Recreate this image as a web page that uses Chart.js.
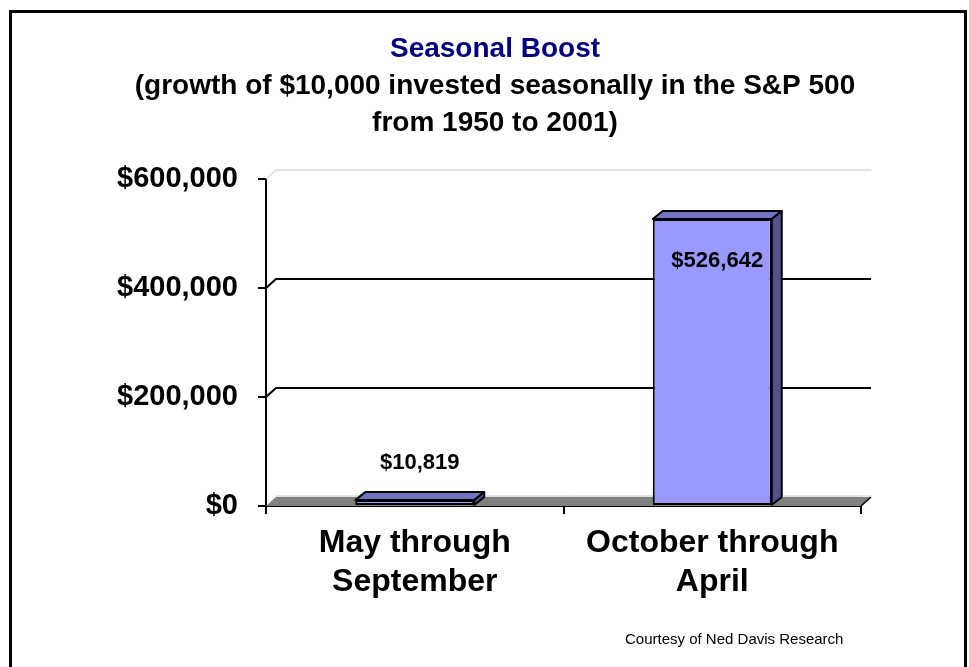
<!DOCTYPE html>
<html>
<head>
<meta charset="utf-8">
<script src="https://cdn.jsdelivr.net/npm/chart.js@4"></script>
<style>
  body { margin: 0; background: #fff; }
  canvas { display: block; }
</style>
</head>
<body>
<canvas id="boostChart" width="969" height="667"></canvas>
<script>
const categories = [["May through", "September"], ["October through", "April"]];
const values = [10819, 526642];
const yTicks = [0, 200000, 400000, 600000];

const FONT = "'Liberation Sans', Arial, sans-serif";
const money = (v) => "$" + v.toLocaleString("en-US");

// depth of the 3D wall / bars
const wall = { dx: 10, dy: -9 };
const depth = { dx: 10, dy: -8 };

const threeD = {
  id: "threeD",
  beforeDatasetsDraw(chart) {
    const { ctx, chartArea: a, scales: { y } } = chart;
    ctx.save();
    // floor
    ctx.beginPath();
    ctx.moveTo(a.left, a.bottom);
    ctx.lineTo(a.right, a.bottom);
    ctx.lineTo(a.right + wall.dx, a.bottom + wall.dy);
    ctx.lineTo(a.left + wall.dx, a.bottom + wall.dy);
    ctx.closePath();
    ctx.fillStyle = "#808080";
    ctx.fill();
    ctx.strokeStyle = "#000";
    ctx.lineWidth = 1.5;
    ctx.beginPath();
    ctx.moveTo(a.right, a.bottom);
    ctx.lineTo(a.right + wall.dx, a.bottom + wall.dy);
    ctx.stroke();
    ctx.strokeStyle = "#c8c8c8";
    ctx.lineWidth = 1;
    ctx.beginPath();
    ctx.moveTo(a.left + wall.dx, a.bottom + wall.dy - 1);
    ctx.lineTo(a.right + wall.dx, a.bottom + wall.dy - 1);
    ctx.stroke();

    // back wall gridlines
    yTicks.forEach((v) => {
      if (v === 0) return;
      const py = y.getPixelForValue(v);
      const top = v === yTicks[yTicks.length - 1];
      ctx.strokeStyle = top ? "#c8c8c8" : "#000";
      ctx.lineWidth = top ? 1 : 2;
      ctx.beginPath();
      ctx.moveTo(a.left, py);
      ctx.lineTo(a.left + wall.dx, py + wall.dy);
      ctx.lineTo(a.right + wall.dx, py + wall.dy);
      ctx.stroke();
    });
    ctx.restore();
  },
  afterDatasetsDraw(chart) {
    const { ctx } = chart;
    const meta = chart.getDatasetMeta(0);
    ctx.save();
    ctx.lineJoin = "round";
    meta.data.forEach((bar, i) => {
      const l = bar.x - bar.width / 2;
      const r = bar.x + bar.width / 2;
      const t = bar.y;
      const b = bar.base;
      ctx.strokeStyle = "#000";
      ctx.lineWidth = 2;
      // top face
      ctx.beginPath();
      ctx.moveTo(l, t);
      ctx.lineTo(r, t);
      ctx.lineTo(r + depth.dx, t + depth.dy);
      ctx.lineTo(l + depth.dx, t + depth.dy);
      ctx.closePath();
      ctx.fillStyle = "#7373c4";
      ctx.fill();
      ctx.stroke();
      // side face
      ctx.beginPath();
      ctx.moveTo(r, t);
      ctx.lineTo(r + depth.dx, t + depth.dy);
      ctx.lineTo(r + depth.dx, b + depth.dy);
      ctx.lineTo(r, b);
      ctx.closePath();
      ctx.fillStyle = "#52528f";
      ctx.fill();
      ctx.stroke();

      // value label
      ctx.fillStyle = "#000";
      ctx.font = "bold 22px " + FONT;
      ctx.textAlign = "center";
      ctx.textBaseline = "middle";
      const ly = b - t < 60 ? t - 37 : t + 42;
      ctx.fillText(money(values[i]), bar.x + 5, ly);
    });
    ctx.restore();
  },
  afterDraw(chart) {
    const { ctx, width, height } = chart;
    ctx.save();
    // frame
    ctx.strokeStyle = "#000";
    ctx.lineWidth = 3;
    ctx.beginPath();
    ctx.moveTo(10.5, height);
    ctx.lineTo(10.5, 11.5);
    ctx.lineTo(width - 3.5, 11.5);
    ctx.lineTo(width - 3.5, height);
    ctx.stroke();
    // source note
    ctx.fillStyle = "#000";
    ctx.font = "15px " + FONT;
    ctx.textAlign = "left";
    ctx.textBaseline = "middle";
    ctx.fillText("Courtesy of Ned Davis Research", 625, 640);
    ctx.restore();
  },
};

new Chart(document.getElementById("boostChart"), {
  type: "bar",
  data: {
    labels: categories,
    datasets: [
      {
        data: values,
        backgroundColor: "#9999ff",
        borderColor: "#000",
        borderWidth: 2,
        borderSkipped: false,
        barPercentage: 0.4,
        categoryPercentage: 1.0,
      },
    ],
  },
  options: {
    responsive: false,
    animation: false,
    layout: { padding: { left: 110, right: 89, top: 0, bottom: 0 } },
    plugins: {
      legend: { display: false },
      tooltip: { enabled: false },
      title: {
        display: true,
        text: "Seasonal Boost",
        color: "#000080",
        font: { family: FONT, size: 28, weight: "bold", lineHeight: 1.2 },
        padding: { top: 32, bottom: 2 },
      },
      subtitle: {
        display: true,
        text: ["(growth of $10,000 invested seasonally in the S&P 500", "from 1950 to 2001)"],
        color: "#000",
        font: { family: FONT, size: 28, weight: "bold", lineHeight: 1.32 },
        padding: { top: 0, bottom: 37.5 },
      },
    },
    scales: {
      x: {
        afterFit: (s) => { s.height = 161; },
        grid: { drawOnChartArea: false, color: "#000", lineWidth: 2, tickLength: 8 },
        border: { color: "#000", width: 2 },
        ticks: {
          color: "#000",
          padding: 10,
          font: { family: FONT, size: 32, weight: "bold", lineHeight: 1.22 },
        },
      },
      y: {
        min: yTicks[0],
        max: yTicks[yTicks.length - 1],
        afterFit: (s) => { s.width = 156; },
        grid: { drawOnChartArea: false, color: "#000", lineWidth: 2, tickLength: 8 },
        border: { color: "#000", width: 2 },
        ticks: {
          stepSize: yTicks[1] - yTicks[0],
          color: "#000",
          padding: 20,
          font: { family: FONT, size: 29, weight: "bold" },
          callback: (v) => money(v),
        },
      },
      // empty spacer on the right so the title centres like the original
      spacer: {
        type: "linear",
        position: "right",
        afterFit: (s) => { s.width = 19; },
        grid: { display: false },
        border: { display: false },
        ticks: { display: false },
      },
    },
  },
  plugins: [threeD],
});
</script>
</body>
</html>
